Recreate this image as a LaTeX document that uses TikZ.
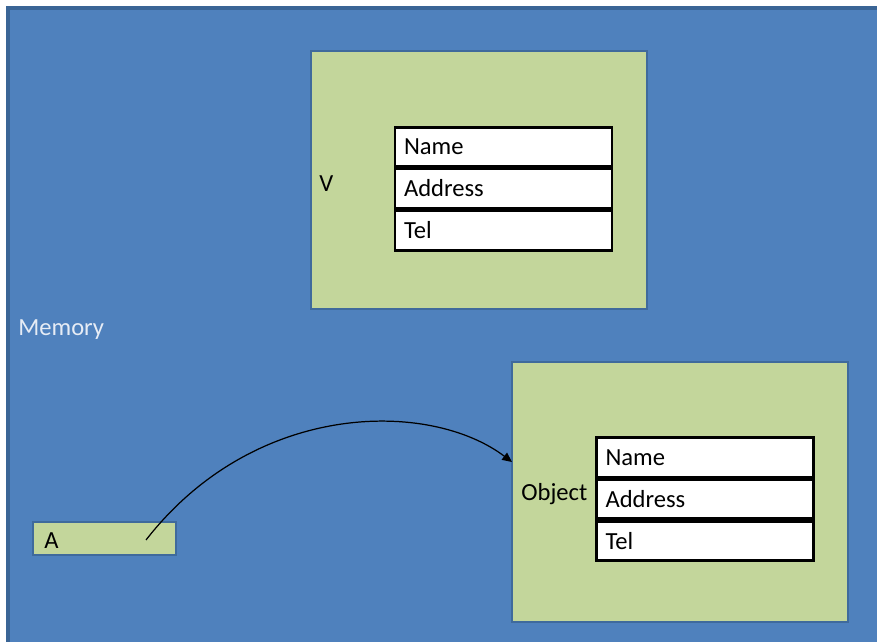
\documentclass[tikz,border=0pt]{standalone}
\usepackage{fontspec}
\setmainfont{Carlito}
\usetikzlibrary{arrows.meta,positioning}
\definecolor{memblue}{HTML}{4F81BD}
\definecolor{memedge}{HTML}{3A6596}
\definecolor{boxgreen}{HTML}{C3D69B}
\definecolor{boxedge}{HTML}{3F6A9C}
\definecolor{memtext}{HTML}{E6ECF5}
\begin{document}
\begin{tikzpicture}[
    x=0.02cm, y=-0.02cm,
    frame/.style={rectangle, draw=boxedge, line width=1.2pt, fill=boxgreen, inner sep=0pt},
    cell/.style={rectangle, draw=black, line width=1.6pt, fill=white, minimum width=4.34cm, minimum height=0.79cm, text width=3.98cm, inner xsep=0.18cm, inner ysep=0pt, align=left, font=\fontsize{14}{16}\selectfont},
    tag/.style={anchor=west, inner sep=0pt, font=\fontsize{14}{16}\selectfont},
    pointer/.style={-{Triangle[length=5.5pt,width=5pt]}, line width=0.7pt, black}
]
\useasboundingbox (0,0) rectangle (877,642);
\clip (0,0) rectangle (877,642);

% Memory area
\draw[memedge, line width=1.8pt, fill=memblue] (8,8) rectangle (890,660);
\node[tag, text=memtext] (memory) at (18,330) {Memory};

% Variable V
\node[frame, minimum width=6.72cm, minimum height=5.16cm] (vBox) at (479,180) {};
\node[tag] (vLabel) at (319,184) {V};
\node[cell] (vName) at (503.5,147) {Name};
\node[cell] (vAddr) at (503.5,188.5) {Address};
\node[cell] (vTel) at (503.5,230.5) {Tel};

% Object
\node[frame, minimum width=6.72cm, minimum height=5.2cm] (objBox) at (680,492) {};
\node[tag] (objLabel) at (521,494) {Object};
\node[cell] (objName) at (705,457.5) {Name};
\node[cell] (objAddr) at (705,499) {Address};
\node[cell] (objTel) at (705,541) {Tel};

% Reference A
\node[frame, minimum width=2.86cm, minimum height=0.66cm] (aBox) at (104.5,538.5) {};
\node[tag] (aLabel) at (44,541) {A};

% Pointer
\coordinate (aPtr) at (146,540);
\coordinate (objIn) at (512,462);
\draw[pointer] (aPtr) .. controls (255,400) and (430,400) .. (objIn);

\end{tikzpicture}
\end{document}
